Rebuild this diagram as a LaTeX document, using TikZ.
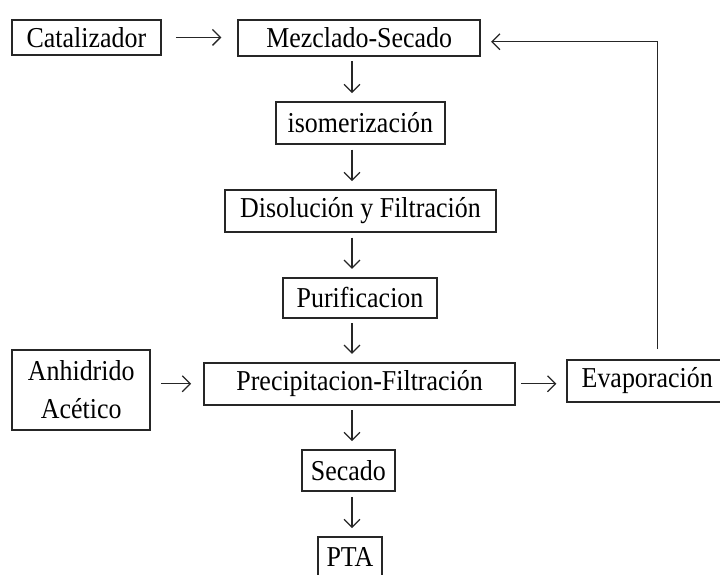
\documentclass[tikz,border=0pt]{standalone}
\usepackage{fontspec}
\setmainfont[FakeStretch=0.9]{Liberation Serif}
\usetikzlibrary{arrows.meta}
\begin{document}
\begin{tikzpicture}[
    caja/.style={draw=black!85, line width=1.2pt, inner sep=0pt, align=center,
      font=\fontsize{20.5}{27}\selectfont},
    flecha/.style={-{Straight Barb[length=2mm, width=4mm]}, line width=0.9pt, black!85},
  ]
\useasboundingbox (0,0) rectangle (18,14.375);
\begin{scope}
  \clip (0,0) rectangle (18,14.375);
% columna principal
\node[caja, minimum width=3.73cm, minimum height=0.88cm] (cat) at (2.16,13.44) {Catalizador};
\node[caja, minimum width=6.05cm, minimum height=0.9cm] (mez) at (8.98,13.43) {Mezclado-Secado};
\node[caja, minimum width=4.23cm, minimum height=1.05cm] (iso) at (9.01,11.3) {isomerización};
\node[caja, minimum width=6.78cm, minimum height=1.05cm] (dis) at (9.01,9.1) {Disolución y Filtración};
\node[caja, minimum width=3.85cm, minimum height=1cm] (pur) at (9.0,6.93) {Purificacion};
\node[caja, minimum width=7.78cm, minimum height=1.05cm] (pre) at (8.99,4.78) {Precipitacion-Filtración};
\node[caja, minimum width=3.45cm, minimum height=2cm] (anh) at (2.03,4.63) {Anhidrido\\Acético};
\node[caja, minimum width=4cm, minimum height=1.05cm] (eva) at (16.18,4.85) {Evaporación};
\node[caja, minimum width=2.33cm, minimum height=1.03cm] (sec) at (8.71,2.61) {Secado};
\node[caja, minimum width=1.6cm, minimum height=1cm] (pta) at (8.75,0.45) {PTA};
\end{scope}
\coordinate (eje) at (8.8,0);
\coordinate (ret) at (16.43,0);
% flechas verticales
\foreach \a/\b in {mez/iso, iso/dis, dis/pur, pur/pre, pre/sec, sec/pta}
  \draw[flecha, shorten <=0.12cm, shorten >=0.2cm] (\a.south -| eje) -- (\b.north -| eje);
% entradas y salida
\draw[flecha, shorten <=0.35cm, shorten >=0.4cm] (cat) -- (cat -| mez.west);
\draw[flecha, shorten <=0.25cm, shorten >=0.3cm] (anh.east |- pre) -- (pre.west);
\draw[flecha, shorten <=0.13cm, shorten >=0.25cm] (pre.east) -- (pre -| eva.west);
% reciclo
\draw[flecha, shorten <=0.25cm, shorten >=0.25cm] (eva.north -| ret) |- ([yshift=-0.1cm]mez.east);
\end{tikzpicture}
\end{document}
